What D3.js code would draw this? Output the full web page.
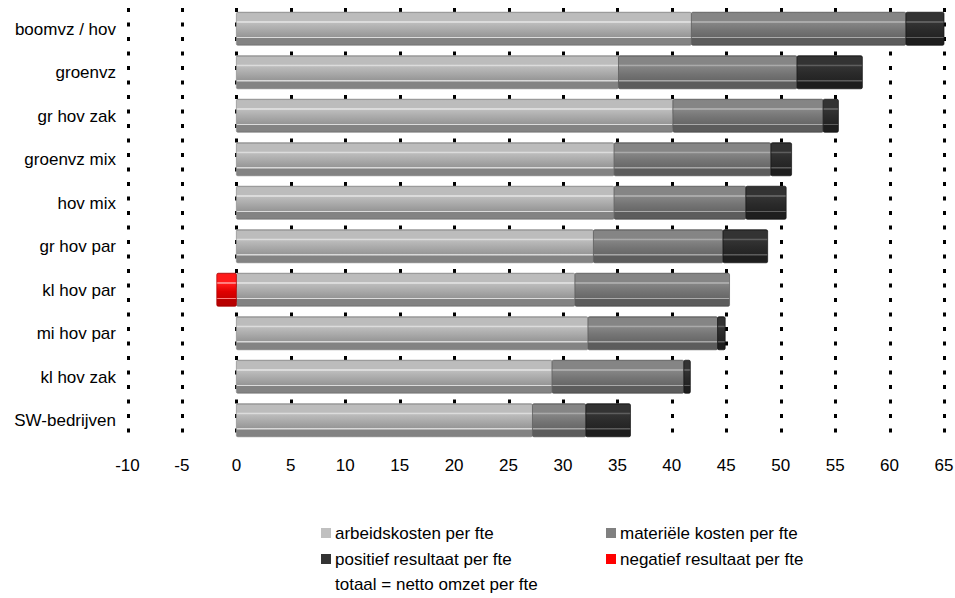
<!DOCTYPE html>
<html><head><meta charset="utf-8">
<script src="https://cdn.jsdelivr.net/npm/d3@7"></script>
<style>
html,body{margin:0;padding:0;background:#fff;}
svg{display:block;font-family:"Liberation Sans",Arial,sans-serif;}
</style></head>
<body>
<svg id="chart" width="955" height="598"></svg>
<script>
const categories = ["boomvz / hov","groenvz","gr hov zak","groenvz mix","hov mix","gr hov par","kl hov par","mi hov par","kl hov zak","SW-bedrijven"];
const arbeidskosten = [41.8, 35.1, 40.1, 34.7, 34.7, 32.8, 31.1, 32.3, 29.0, 27.2];
const materieleKosten = [19.7, 16.4, 13.8, 14.4, 12.1, 11.9, 14.2, 11.9, 12.1, 4.9];
const resultaat = [3.5, 6.0, 1.4, 1.9, 3.7, 4.1, -1.8, 0.7, 0.6, 4.1];
const xTicks = [-10,-5,0,5,10,15,20,25,30,35,40,45,50,55,60,65];
const legendItems = [
  {label:"arbeidskosten per fte", key:"arb"},
  {label:"materiële kosten per fte", key:"mat"},
  {label:"positief resultaat per fte", key:"pos"},
  {label:"negatief resultaat per fte", key:"neg"}
];
const legendNote = "totaal = netto omzet per fte";

const svg = d3.select("#chart");
const x = d3.scaleLinear().domain([-10,65]).range([127.5,944]);
const y = d3.scaleBand().domain(categories).range([7,442]).paddingInner(0.24).paddingOuter(0.12);

const defs = svg.append("defs");
function grad(id, top, mid, bot, hl){
  const g = defs.append("linearGradient").attr("id",id).attr("x1",0).attr("y1",0).attr("x2",0).attr("y2",1);
  const stops = [
    [0, bot],[0.04, top],[0.26, top],[0.28, hl],[0.31, hl],[0.33, top],
    [0.55, mid],[0.74, d3.interpolateRgb(mid,bot)(0.5)],[0.75, hl],[0.77, hl],[0.79, bot],[0.96, bot],[1, d3.interpolateRgb(bot,"#000")(0.2)]
  ];
  stops.forEach(s=>g.append("stop").attr("offset",s[0]).attr("stop-color",s[1]));
}
grad("gArb","#bcbcbc","#a8a8a8","#838383","#dcdcdc");
grad("gMat","#858585","#747474","#5c5c5c","#aaaaaa");
grad("gPos","#333333","#2a2a2a","#1e1e1e","#5e5e5e");
grad("gNeg","#ff1a1a","#e00000","#b80000","#ff8080");
const fills = {arb:"url(#gArb)", mat:"url(#gMat)", pos:"url(#gPos)", neg:"url(#gNeg)"};
const edge = {arb:"#8e8e8e", mat:"#5a5a5a", pos:"#151515", neg:"#b00000"};
const legendColor = {arb:"#c0c0c0", mat:"#808080", pos:"#333333", neg:"#ff0000"};

// gridlines (dotted)
svg.append("g").selectAll("line").data(xTicks).join("line")
  .attr("x1",d=>Math.round(x(d))+0.5).attr("x2",d=>Math.round(x(d))+0.5)
  .attr("y1",8).attr("y2",443)
  .attr("stroke","#000").attr("stroke-width",3)
  .attr("stroke-dasharray","4,10.5");

// segments
const segs = [];
categories.forEach((c,i)=>{
  const a = arbeidskosten[i], m = materieleKosten[i], r = resultaat[i];
  segs.push({c, key:"arb", x0:0, x1:a});
  segs.push({c, key:"mat", x0:a, x1:a+m});
  if (r>=0) segs.push({c, key:"pos", x0:a+m, x1:a+m+r});
  else segs.push({c, key:"neg", x0:r, x1:0});
});
const bars = svg.append("g");
bars.selectAll("rect").data(segs).join("rect")
  .attr("x",d=>x(d.x0)).attr("width",d=>x(d.x1)-x(d.x0))
  .attr("y",d=>y(d.c)).attr("height",y.bandwidth())
  .attr("rx",1.5)
  .attr("fill",d=>fills[d.key])
  .attr("stroke",d=>edge[d.key]).attr("stroke-width",0.8).attr("stroke-opacity",0.9);

// category labels
svg.append("g").selectAll("text").data(categories).join("text")
  .attr("x",116).attr("y",d=>y(d)+y.bandwidth()/2)
  .attr("dy","0.35em").attr("text-anchor","end")
  .attr("font-size",17).attr("fill","#000").text(d=>d);

// x tick labels
svg.append("g").selectAll("text").data(xTicks).join("text")
  .attr("x",d=>x(d)).attr("y",471)
  .attr("text-anchor","middle").attr("font-size",17).attr("fill","#000").text(d=>d);

// legend
const lg = svg.append("g");
const lpos = [[321,533],[606,533],[321,559],[606,559]];
legendItems.forEach((it,i)=>{
  const [lx,ly] = lpos[i];
  lg.append("rect").attr("x",lx).attr("y",ly-5).attr("width",10).attr("height",10).attr("fill",legendColor[it.key]);
  lg.append("text").attr("x",lx+14).attr("y",ly).attr("dy","0.35em").attr("font-size",17).text(it.label);
});
lg.append("text").attr("x",335).attr("y",584).attr("dy","0.35em").attr("font-size",17).text(legendNote);
</script>
</body></html>
